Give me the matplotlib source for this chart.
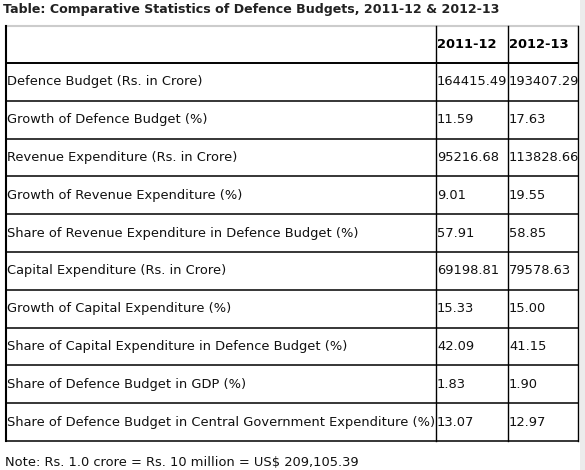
import matplotlib
matplotlib.use("Agg")
import matplotlib.pyplot as plt

title = "Table: Comparative Statistics of Defence Budgets, 2011-12 & 2012-13"
years = ["2011-12", "2012-13"]
rowLabels = [
    "Defence Budget (Rs. in Crore)",
    "Growth of Defence Budget (%)",
    "Revenue Expenditure (Rs. in Crore)",
    "Growth of Revenue Expenditure (%)",
    "Share of Revenue Expenditure in Defence Budget (%)",
    "Capital Expenditure (Rs. in Crore)",
    "Growth of Capital Expenditure (%)",
    "Share of Capital Expenditure in Defence Budget (%)",
    "Share of Defence Budget in GDP (%)",
    "Share of Defence Budget in Central Government Expenditure (%)",
]
values2011 = [164415.49, 11.59, 95216.68, 9.01, 57.91, 69198.81, 15.33, 42.09, 1.83, 13.07]
values2012 = [193407.29, 17.63, 113828.66, 19.55, 58.85, 79578.63, 15.00, 41.15, 1.90, 12.97]
note = "Note: Rs. 1.0 crore = Rs. 10 million = US$ 209,105.39"

fig = plt.figure(figsize=(5.85, 4.70), dpi=100)
ax = fig.add_axes([0, 0, 1, 1])
ax.set_xlim(0, 585)
ax.set_ylim(470, 0)
ax.axis('off')

# light scrollbar strip on the right
ax.fill_between([580, 585], 0, 470, color='#ececec', lw=0)

left, col1, col2, right = 6, 435.5, 507.5, 577.5
top, headerBottom, bottom = 25.5, 63, 441
rowHeight = (bottom - headerBottom) / len(rowLabels)
fontSize = 9.4

ax.text(3, 10, title, fontsize=9.1, fontweight='bold', color='#222222', va='center', ha='left')

# frame
ax.plot([left, right], [top, top], color='#cccccc', lw=1.5)
ax.plot([left, left], [top, bottom], color='black', lw=1.5)
ax.plot([right, right], [top, bottom], color='black', lw=1)
ax.plot([col1, col1], [top, bottom], color='black', lw=1)
ax.plot([col2, col2], [top, bottom], color='black', lw=1)
ax.plot([left, right], [headerBottom, headerBottom], color='black', lw=1.4)
for i in range(1, len(rowLabels) + 1):
    y = headerBottom + rowHeight * i
    ax.plot([left, right], [y, y], color='black', lw=1.1)

ax.text(col1 + 2, 45, years[0], fontsize=fontSize, fontweight='bold', va='center', ha='left')
ax.text(col2 + 2, 45, years[1], fontsize=fontSize, fontweight='bold', va='center', ha='left')

for i, label in enumerate(rowLabels):
    y = headerBottom + rowHeight * (i + 0.5)
    ax.text(left + 1, y, label, fontsize=fontSize, va='center', ha='left', color='#111111')
    ax.text(col1 + 1.5, y, "%.2f" % values2011[i], fontsize=fontSize, va='center', ha='left', color='#111111')
    ax.text(col2 + 1.5, y, "%.2f" % values2012[i], fontsize=fontSize, va='center', ha='left', color='#111111')

ax.text(5, 462, note, fontsize=fontSize, va='center', ha='left', color='#111111')

fig.savefig("out.png", dpi=100)
